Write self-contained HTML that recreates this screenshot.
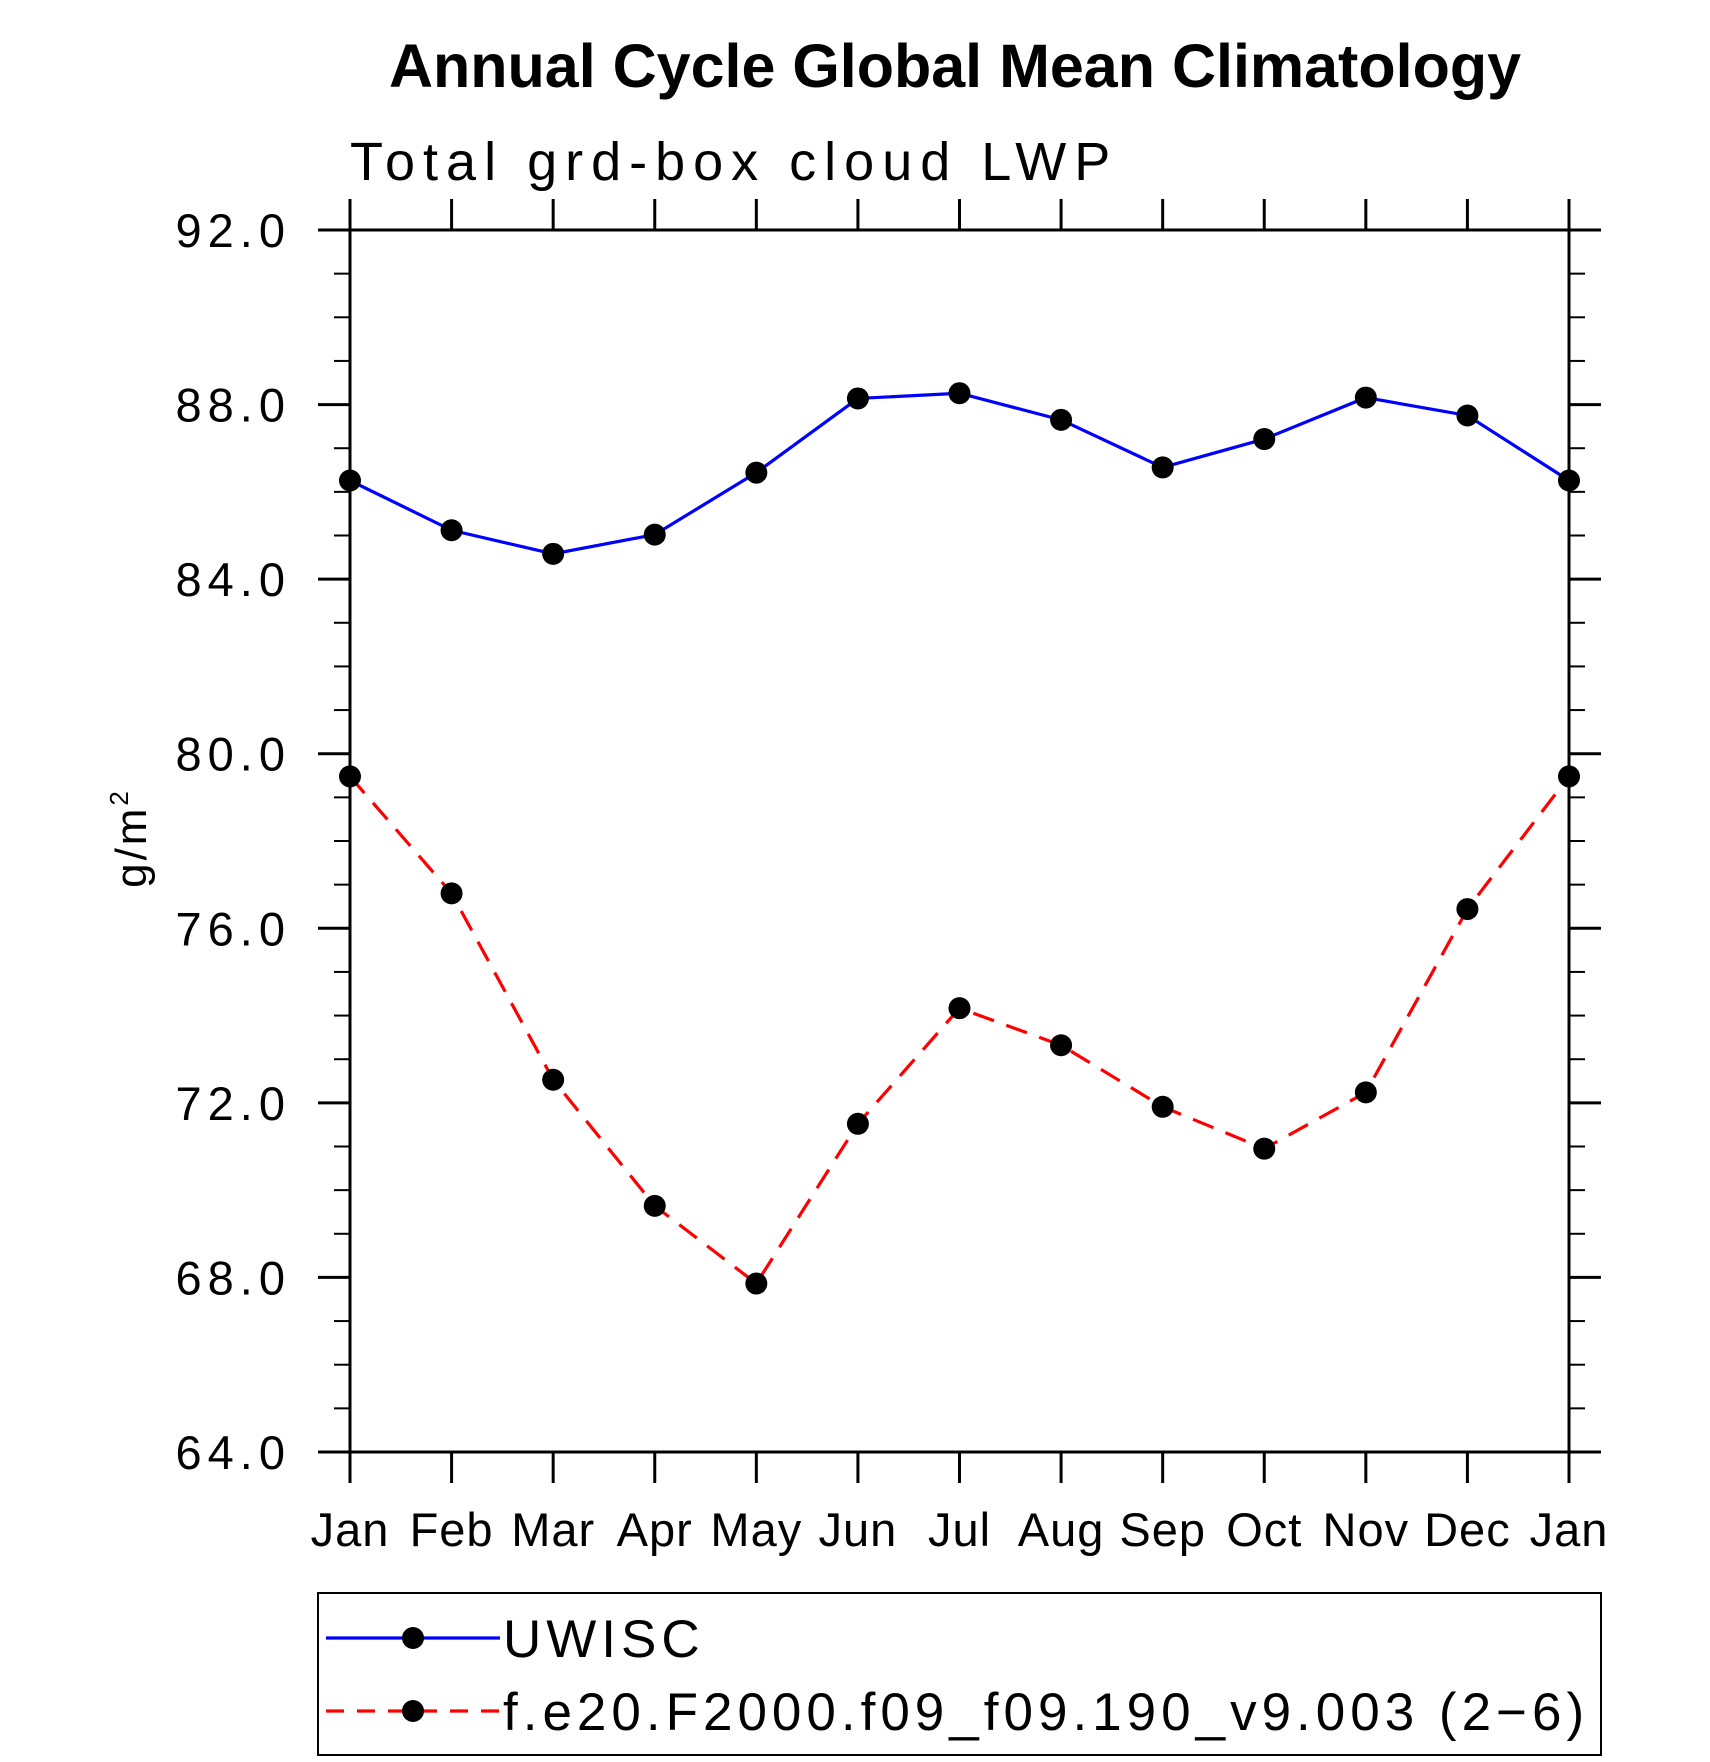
<!DOCTYPE html>
<html><head><meta charset="utf-8"><style>
html,body{margin:0;padding:0;background:#fff;}
svg{display:block;font-family:"Liberation Sans",sans-serif;}
.lbl{font-size:47px;fill:#000;font-weight:300;}
</style></head><body>
<svg id="chart" width="1710" height="1762" viewBox="0 0 1710 1762">
<text x="955" y="87" text-anchor="middle" font-size="61" font-weight="bold">Annual Cycle Global Mean Climatology</text>
<text x="350" y="180" font-size="54" letter-spacing="8" font-weight="300">Total grd-box cloud LWP</text>
<text transform="translate(146,838) rotate(-90)" text-anchor="middle" font-size="44" letter-spacing="3">g/m<tspan font-size="26" dy="-18">2</tspan></text>
<g id="axes"></g>
<g id="series"></g>
<rect x="318" y="1593" width="1283" height="162" fill="none" stroke="#000" stroke-width="2"/>
<g id="legend"></g>
</svg>
<script>
const months = ["Jan","Feb","Mar","Apr","May","Jun","Jul","Aug","Sep","Oct","Nov","Dec","Jan"];
const uwisc = [86.26,85.12,84.58,85.02,86.44,88.14,88.26,87.65,86.56,87.21,88.16,87.75,86.26];
const model = [79.48,76.80,72.53,69.64,67.86,71.52,74.17,73.32,71.91,70.95,72.24,76.44,79.48];
const yTicks = [64,68,72,76,80,84,88,92];
const yTickLabels = ["64.0","68.0","72.0","76.0","80.0","84.0","88.0","92.0"];
const seriesNames = ["UWISC","f.e20.F2000.f09_f09.190_v9.003 (2\u22126)"];

const L=350,R=1569,T=230,B=1452,yMin=64,yMax=92;
const xs=i=>L+(R-L)*i/(months.length-1);
const ys=v=>B-(v-yMin)/(yMax-yMin)*(B-T);
const NS="http://www.w3.org/2000/svg";
function mk(tag,attrs,parent){const e=document.createElementNS(NS,tag);for(const k in attrs)e.setAttribute(k,attrs[k]);parent.appendChild(e);return e;}
const ax=document.getElementById('axes');
let f=mk('rect',{x:L,y:T,width:R-L,height:B-T,fill:'none',stroke:'#000','stroke-width':3},ax);


for(let v=yMin;v<=yMax;v+=1){
  const y=ys(v);const major=yTicks.includes(v);const len=major?32:16;
  let t=mk('line',{x1:L-len,y1:y,x2:L,y2:y,stroke:'#000','stroke-width':major?3:2},ax);
  
  
  let t2=mk('line',{x1:R,y1:y,x2:R+len,y2:y,stroke:'#000','stroke-width':major?3:2},ax);
  
  
}
yTicks.forEach((v,i)=>{
  let t=mk('text',{x:291,y:ys(v)+17,'text-anchor':'end','class':'lbl','letter-spacing':6},ax);t.textContent=yTickLabels[i];
  
  
});
months.forEach((m,i)=>{
  const x=xs(i);
  let t=mk('line',{x1:x,y1:B,x2:x,y2:B+31,stroke:'#000','stroke-width':3},ax);
  
  
  let t2=mk('line',{x1:x,y1:T-31,x2:x,y2:T,stroke:'#000','stroke-width':3},ax);
  
  
  let l=mk('text',{x:x,y:1546,'text-anchor':'middle','class':'lbl','font-size':44,'letter-spacing':1},ax);l.textContent=m;
  
  
});
const sg=document.getElementById('series');
function drawSeries(vals,color,dash,name){
  const pts=vals.map((v,i)=>xs(i)+','+ys(v)).join(' ');
  let p=mk('polyline',{points:pts,fill:'none',stroke:color,'stroke-width':3.2,'stroke-dasharray':dash},sg);
  
  
  vals.forEach((v,i)=>{
    let c=mk('circle',{cx:xs(i),cy:ys(v),r:11,fill:'#000'},sg);
    
    
  });
}
drawSeries(uwisc,'#0000ff','none','uwisc');
drawSeries(model,'#ff0000','22 13','model');
const lg=document.getElementById('legend');
[[1638,'#0000ff','none'],[1711,'#ff0000','18 13']].forEach((e,i)=>{
  let ln=mk('line',{x1:326,y1:e[0],x2:500,y2:e[0],stroke:e[1],'stroke-width':3.2,'stroke-dasharray':e[2]},lg);
  
  
  let c=mk('circle',{cx:413,cy:e[0],r:11,fill:'#000'},lg);
  
  
  let t=mk('text',{x:503,y:e[0]+19,'font-size':53,'font-weight':300,'letter-spacing':5},lg);t.textContent=seriesNames[i];
  
  
});
</script>
</body></html>
